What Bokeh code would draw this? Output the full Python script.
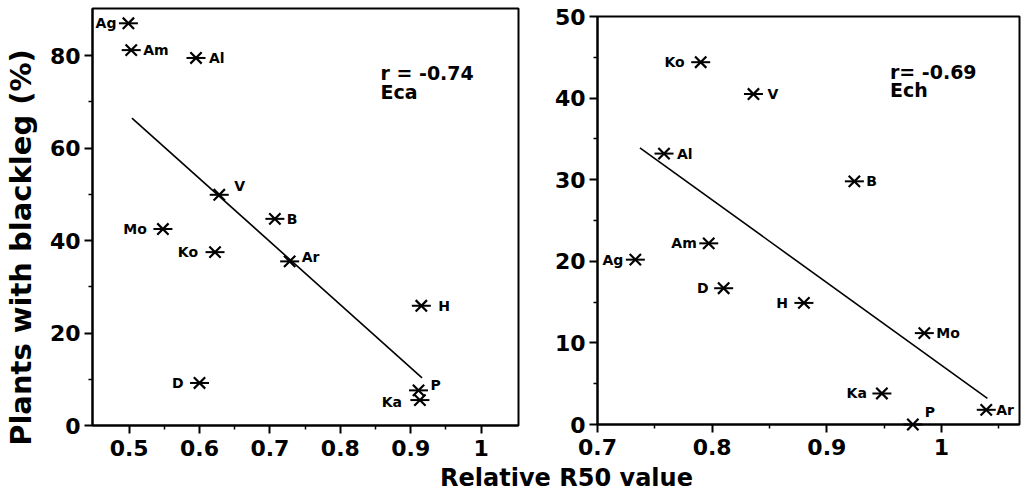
from bokeh.plotting import figure
from bokeh.layouts import row, column
from bokeh.models import ColumnDataSource, Range1d, FixedTicker, Label
from bokeh.core.properties import value
from bokeh.embed import file_html
from bokeh.resources import INLINE
import math

FONT = "DejaVu Sans"

# ---------------- data ----------------
# Panel 1: Eca
eca_names = ["Ag", "Am", "Al", "V", "Mo", "Ko", "B", "Ar", "D", "H", "P", "Ka"]
eca_x = [0.499, 0.503, 0.595, 0.628, 0.548, 0.622, 0.707, 0.728, 0.600, 0.915, 0.911, 0.913]
eca_y = [87.0, 81.2, 79.5, 49.9, 42.5, 37.5, 44.7, 35.5, 9.2, 25.9, 7.6, 5.5]
eca_fit_x = [0.504, 0.916]
eca_fit_y = [66.5, 10.3]
eca_r_text = "r = -0.74"
eca_tag = "Eca"

# Panel 2: Ech
ech_names = ["Ko", "V", "Al", "B", "Am", "Ag", "D", "H", "Mo", "Ka", "P", "Ar"]
ech_x = [0.790, 0.836, 0.758, 0.924, 0.797, 0.733, 0.810, 0.880, 0.985, 0.948, 0.975, 1.039]
ech_y = [44.4, 40.5, 33.2, 29.8, 22.2, 20.2, 16.7, 14.9, 11.2, 3.8, 0.0, 1.8]
ech_fit_x = [0.737, 1.040]
ech_fit_y = [33.9, 3.2]
ech_r_text = "r= -0.69"
ech_tag = "Ech"

# ticks
eca_xticks = [0.5, 0.6, 0.7, 0.8, 0.9, 1.0]
eca_xtick_labels = ["0.5", "0.6", "0.7", "0.8", "0.9", "1"]
eca_xminor = [0.55, 0.65, 0.75, 0.85, 0.95]
eca_yticks = [0, 20, 40, 60, 80]
eca_yminor = [10, 30, 50, 70]

ech_xticks = [0.7, 0.8, 0.9, 1.0]
ech_xtick_labels = ["0.7", "0.8", "0.9", "1"]
ech_xminor = [0.75, 0.85, 0.95, 1.05]
ech_yticks = [0, 10, 20, 30, 40, 50]
ech_yminor = [5, 15, 25, 35, 45]

y_title = "Plants with blackleg (%)"
x_title = "Relative R50 value"

# label placement (pixel offsets, style only)
eca_dx = [-12, 12, 13, 15, -16, -17, 12, 12, -16, 17, 12, -18]
eca_dy = [0, 0, 0, -9, 0, 0, 0, -4, 0, 0, -5, 2]
ech_dx = [-16, 14, 13, 12, -12, -12, -15, -16, 12, -15, 12, 10]
ech_dy = [0, 0, 0, 0, 0, 0, 0, 0, 0, 0, -13, 0]


def style_axes(p, xticks, xlabels, xminor, yticks, yminor):
    p.xaxis.ticker = FixedTicker(ticks=xticks, minor_ticks=xminor)
    p.yaxis.ticker = FixedTicker(ticks=yticks, minor_ticks=yminor)
    p.xaxis.major_label_overrides = {t: l for t, l in zip(xticks, xlabels)}
    p.yaxis.major_label_overrides = {t: str(t) for t in yticks}
    for ax in (p.xaxis, p.yaxis):
        ax.axis_line_width = 2
        ax.axis_line_color = "black"
        ax.major_tick_line_width = 2
        ax.minor_tick_line_width = 1.5
        ax.major_tick_out = 8
        ax.major_tick_in = 0
        ax.minor_tick_out = 4
        ax.minor_tick_in = 0
        ax.major_label_text_font = FONT
        ax.major_label_text_font_style = "bold"
        ax.major_label_text_font_size = "22px"
        ax.major_label_text_color = "black"
    p.xaxis.major_label_standoff = 6
    p.yaxis.major_label_standoff = 4
    p.grid.visible = False
    p.outline_line_color = "black"
    p.outline_line_width = 2
    p.outline_line_alpha = 1


def draw_panel(p, names, xs, ys, dxs, dys, fx, fy):
    left = [i for i, d in enumerate(dxs) if d < 0]
    right = [i for i, d in enumerate(dxs) if d >= 0]
    src = ColumnDataSource(dict(x=xs, y=ys))
    p.line(fx, fy, line_color="black", line_width=1.6)
    p.scatter("x", "y", source=src, marker="x", size=16, line_width=2.2,
              line_color="black", level="overlay")
    p.scatter("x", "y", source=src, marker="dash", size=19, line_width=2,
              line_color="black", level="overlay")
    for idxs, align in ((left, "right"), (right, "left")):
        s = ColumnDataSource(dict(
            x=[xs[i] for i in idxs], y=[ys[i] for i in idxs],
            t=[names[i] for i in idxs],
            dx=[dxs[i] for i in idxs], dy=[dys[i] for i in idxs]))
        p.text("x", "y", text="t", source=s, x_offset="dx", y_offset="dy",
               text_align=align, text_baseline="middle",
               text_font=value(FONT), text_font_style="bold",
               text_font_size="14px", text_color="black", level="overlay")


def lbl(x, y, text, size, **kw):
    return Label(x=x, y=y, text=text, text_font=FONT, text_font_style="bold",
                 text_font_size=size, text_color="black", **kw)


# ---------------- panel 1 ----------------
p1 = figure(width=490, height=465, output_backend="svg", toolbar_location=None,
            x_range=Range1d(0.448, 1.053), y_range=Range1d(0, 90.2),
            min_border_left=52, min_border_right=12, min_border_top=8, min_border_bottom=40)
style_axes(p1, eca_xticks, eca_xtick_labels, eca_xminor, eca_yticks, eca_yminor)
draw_panel(p1, eca_names, eca_x, eca_y, eca_dx, eca_dy, eca_fit_x, eca_fit_y)
p1.add_layout(lbl(0.857, 76.3, eca_r_text, "19px", text_baseline="middle"))
p1.add_layout(lbl(0.857, 72.2, eca_tag, "19px", text_baseline="middle"))

# ---------------- panel 2 ----------------
p2 = figure(width=494, height=465, output_backend="svg", toolbar_location=None,
            x_range=Range1d(0.7, 1.068), y_range=Range1d(0, 50),
            min_border_left=67, min_border_right=5, min_border_top=16, min_border_bottom=41)
style_axes(p2, ech_xticks, ech_xtick_labels, ech_xminor, ech_yticks, ech_yminor)
draw_panel(p2, ech_names, ech_x, ech_y, ech_dx, ech_dy, ech_fit_x, ech_fit_y)
p2.add_layout(lbl(0.955, 43.2, ech_r_text, "19px", text_baseline="middle"))
p2.add_layout(lbl(0.955, 41.0, ech_tag, "19px", text_baseline="middle"))

# ---------------- axis titles ----------------
py = figure(width=40, height=465, output_backend="svg", toolbar_location=None,
            x_range=Range1d(0, 40), y_range=Range1d(0, 465),
            x_axis_location=None, y_axis_location=None, min_border=0)
py.grid.visible = False
py.outline_line_color = None
py.add_layout(lbl(20, 218, y_title, "29px", angle=math.pi / 2, text_align="center",
                  text_baseline="middle"))

px = figure(width=1024, height=36, output_backend="svg", toolbar_location=None,
            x_range=Range1d(0, 1024), y_range=Range1d(0, 36),
            x_axis_location=None, y_axis_location=None, min_border=0)
px.grid.visible = False
px.outline_line_color = None
px.add_layout(lbl(566, 24, x_title, "24px", text_align="center", text_baseline="middle"))

layout = column(row(column(py), column(p1), column(p2)), px)
open("out.html", "w").write(file_html(layout, INLINE))
